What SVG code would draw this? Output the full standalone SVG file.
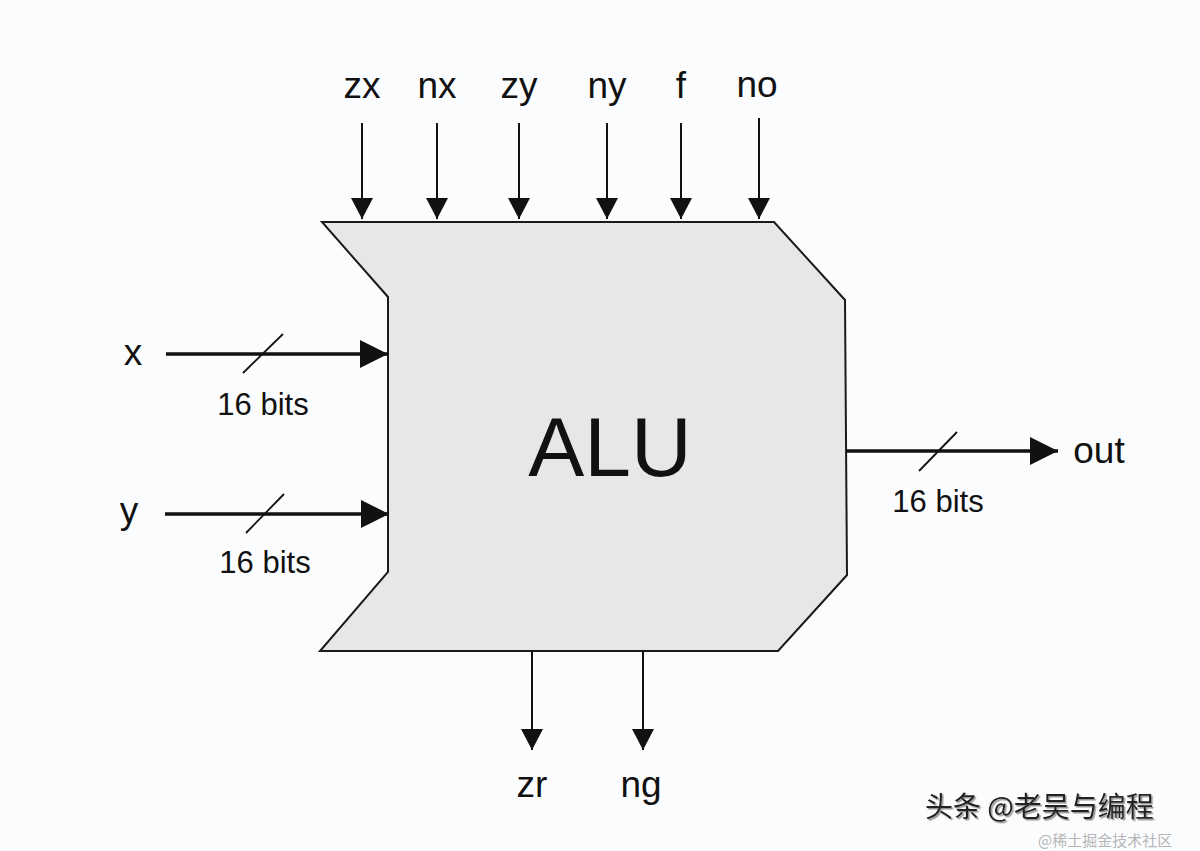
<svg xmlns="http://www.w3.org/2000/svg" width="1200" height="851" viewBox="0 0 1200 851">
<style>
  .lbl{font-family:"Liberation Sans",Arial,sans-serif;font-size:37px;fill:#111;text-anchor:middle}
  .bits{font-family:"Liberation Sans",Arial,sans-serif;font-size:31px;fill:#111;text-anchor:middle}
  .thin{stroke:#111;stroke-width:2;fill:none}
  .bus{stroke:#111;stroke-width:3.5;fill:none}
  .slash{stroke:#111;stroke-width:1.8;fill:none}
  .wm{font-family:"Noto Sans CJK SC",sans-serif}
</style>
<defs>
  <marker id="aS" markerUnits="userSpaceOnUse" markerWidth="22" markerHeight="22" refX="21" refY="11" orient="auto">
    <path d="M0,0 L21,11 L0,22 z" fill="#111"/>
  </marker>
  <marker id="aL" markerUnits="userSpaceOnUse" markerWidth="28" markerHeight="28" refX="28" refY="14" orient="auto">
    <path d="M0,0 L28,14 L0,28 z" fill="#111"/>
  </marker>
  <filter id="shadow" x="-5%" y="-20%" width="110%" height="140%">
    <feDropShadow dx="1.5" dy="1.5" stdDeviation="0.6" flood-color="#888" flood-opacity="0.9"/>
  </filter>
</defs>
<rect width="1200" height="851" fill="#fbfcfd"/>

<g id="alu">
  <polygon points="322,222 774,222 845,300 847,575 778,651 320,651 388,572 388,297" fill="#e6e7e9" stroke="#1a1a1a" stroke-width="2"/>
  <text x="610" y="476" font-family="'Liberation Sans',Arial,sans-serif" font-size="84" fill="#111" text-anchor="middle">ALU</text>
</g>

<g id="connectors">
  <line class="thin" x1="362" y1="123" x2="362" y2="219" marker-end="url(#aS)"/>
  <line class="thin" x1="437" y1="123" x2="437" y2="219" marker-end="url(#aS)"/>
  <line class="thin" x1="519" y1="123" x2="519" y2="219" marker-end="url(#aS)"/>
  <line class="thin" x1="607" y1="123" x2="607" y2="219" marker-end="url(#aS)"/>
  <line class="thin" x1="681" y1="123" x2="681" y2="219" marker-end="url(#aS)"/>
  <line class="thin" x1="759" y1="118" x2="759" y2="219" marker-end="url(#aS)"/>

  <line class="bus" x1="166" y1="354" x2="388" y2="354" marker-end="url(#aL)"/>
  <line class="slash" x1="243" y1="373" x2="283" y2="334"/>
  <line class="bus" x1="165" y1="514" x2="389" y2="514" marker-end="url(#aL)"/>
  <line class="slash" x1="246" y1="533" x2="284" y2="494"/>

  <line class="bus" x1="846" y1="451" x2="1058" y2="451" marker-end="url(#aL)"/>
  <line class="slash" x1="919" y1="471" x2="957" y2="432"/>

  <line class="thin" x1="532" y1="652" x2="532" y2="750" marker-end="url(#aS)"/>
  <line class="thin" x1="643" y1="652" x2="643" y2="750" marker-end="url(#aS)"/>
</g>

<g id="labels">
  <text class="lbl" x="362" y="98">zx</text>
  <text class="lbl" x="437" y="98">nx</text>
  <text class="lbl" x="519" y="98">zy</text>
  <text class="lbl" x="607" y="98">ny</text>
  <text class="lbl" x="681" y="98">f</text>
  <text class="lbl" x="757" y="97">no</text>
  <text class="lbl" x="133" y="365">x</text>
  <text class="lbl" x="129" y="523">y</text>
  <text class="lbl" x="1099" y="463">out</text>
  <text class="lbl" x="532" y="797">zr</text>
  <text class="lbl" x="641" y="797">ng</text>
  <text class="bits" x="263" y="415">16 bits</text>
  <text class="bits" x="265" y="573">16 bits</text>
  <text class="bits" x="938" y="512">16 bits</text>
</g>

<g id="watermark">
  <text class="wm" x="925" y="817" font-size="28" fill="#222" filter="url(#shadow)">头条 @老吴与编程</text>
  <text class="wm" x="1038" y="846" font-size="15" fill="#b5b5b5">@稀土掘金技术社区</text>
</g>
</svg>
